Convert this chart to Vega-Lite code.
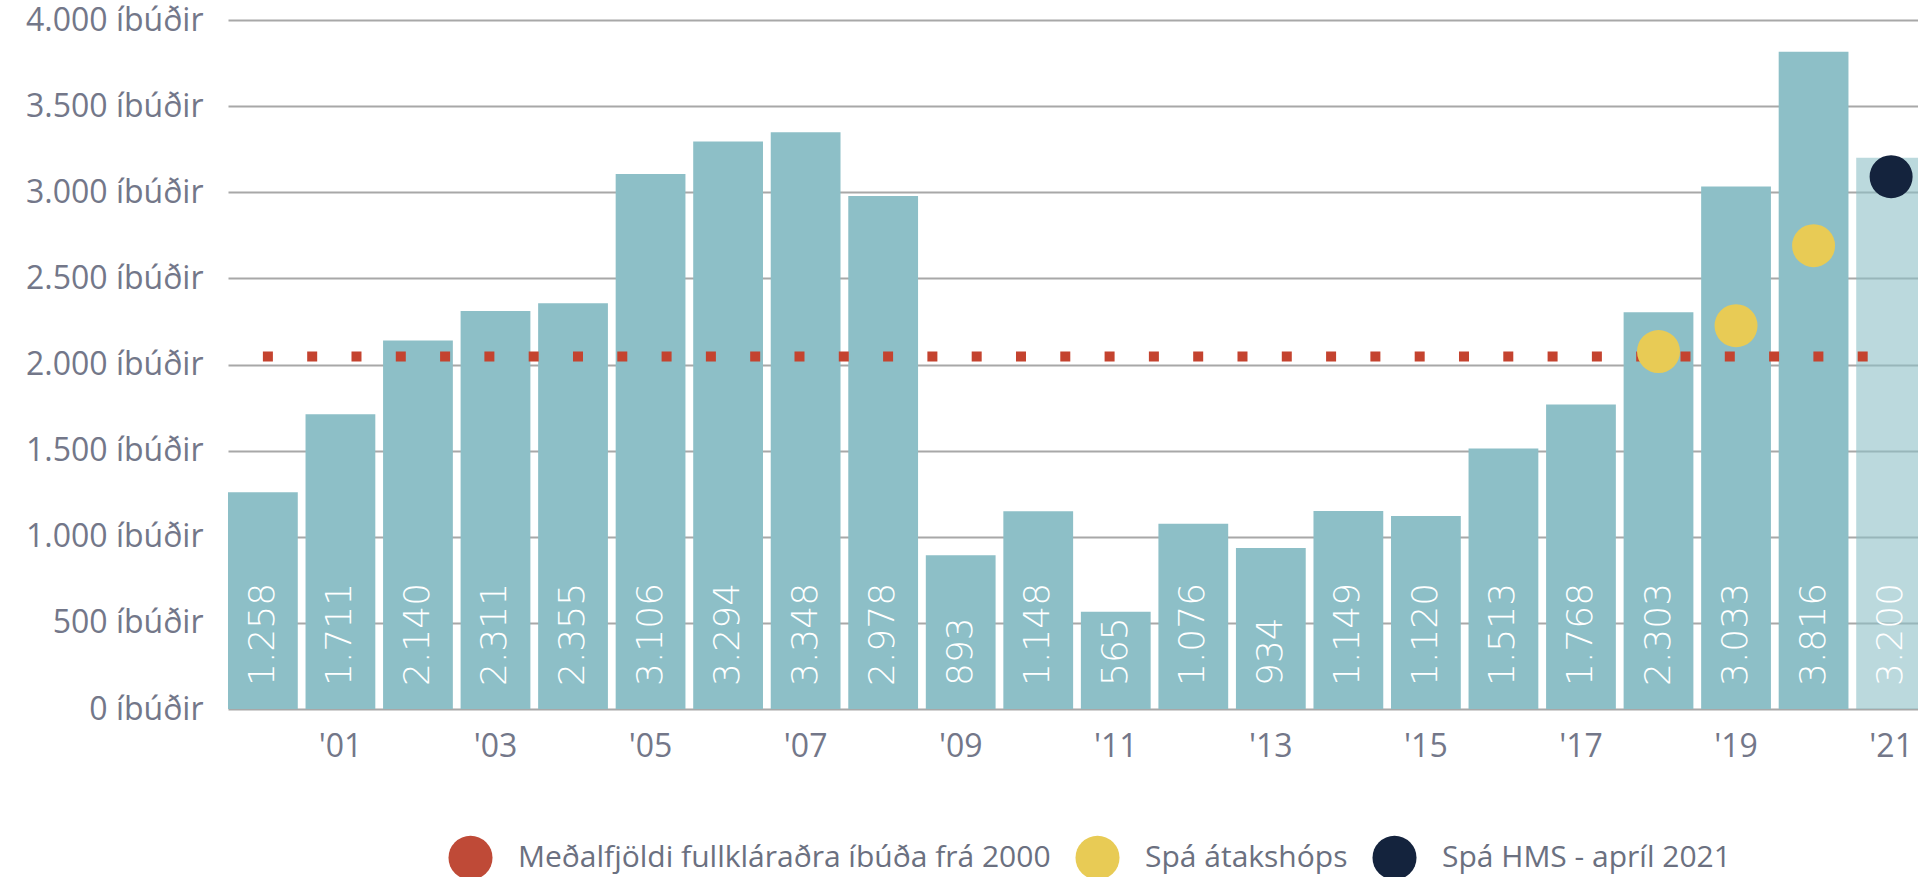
{
  "$schema": "https://vega.github.io/schema/vega-lite/v6.json",
  "width": 1690,
  "height": 689,
  "autosize": {"type": "none"},
  "padding": {"left": 228, "top": 20, "right": 0, "bottom": 168},
  "background": "white",
  "config": {
    "view": {"stroke": null},
    "locale": {"number": {"decimal": ",", "thousands": ".", "grouping": [3], "currency": ["", ""]}}
  },
  "datasets": {
    "bars": [
      {"year": "2000", "value": 1258},
      {"year": "2001", "value": 1711},
      {"year": "2002", "value": 2140},
      {"year": "2003", "value": 2311},
      {"year": "2004", "value": 2355},
      {"year": "2005", "value": 3106},
      {"year": "2006", "value": 3294},
      {"year": "2007", "value": 3348},
      {"year": "2008", "value": 2978},
      {"year": "2009", "value": 893},
      {"year": "2010", "value": 1148},
      {"year": "2011", "value": 565},
      {"year": "2012", "value": 1076},
      {"year": "2013", "value": 934},
      {"year": "2014", "value": 1149},
      {"year": "2015", "value": 1120},
      {"year": "2016", "value": 1513},
      {"year": "2017", "value": 1768},
      {"year": "2018", "value": 2303},
      {"year": "2019", "value": 3033},
      {"year": "2020", "value": 3816},
      {"year": "2021", "value": 3200}
    ],
    "avg": [
      {"year": "2000", "avg": 2046},
      {"year": "2021", "avg": 2046}
    ],
    "pts": [
      {"year": "2018", "forecast": 2075, "series": "Spá átakshóps"},
      {"year": "2019", "forecast": 2225, "series": "Spá átakshóps"},
      {"year": "2020", "forecast": 2690, "series": "Spá átakshóps"},
      {"year": "2021", "forecast": 3090, "series": "Spá HMS - apríl 2021"}
    ]
  },
  "layer": [
    {
      "data": {"name": "bars"},
      "mark": {"type": "bar", "color": "#8dbfc7"},
      "encoding": {
        "x": {
          "field": "year", "type": "ordinal",
          "scale": {"range": [0, 1698], "paddingInner": 0.1, "paddingOuter": 0},
          "axis": {
            "title": null, "domain": false, "ticks": false, "tickSize": 0,
            "labelAngle": 0, "labelPadding": 22, "labelFont": "Open Sans", "labelFontSize": 32,
            "labelColor": "#737789",
            "labelExpr": "toNumber(datum.value) % 2 == 1 ? \"'\" + slice(datum.value, 2) : ''"
          }
        },
        "y": {
          "field": "value", "type": "quantitative",
          "scale": {"domain": [0, 4000], "nice": false},
          "axis": {
            "title": null, "domain": false, "ticks": false, "tickSize": 0,
            "values": [0, 500, 1000, 1500, 2000, 2500, 3000, 3500, 4000],
            "grid": true, "gridColor": "#a8a8a8", "gridWidth": 2,
            "labelPadding": 25, "labelFont": "Open Sans", "labelFontSize": 32,
            "labelColor": "#737789", "labelLimit": 400,
            "labelExpr": "replace(format(datum.value, ','), ',', '.') + ' íbúðir'"
          }
        },
        "opacity": {"condition": {"test": "datum.year == '2021'", "value": 0.6}, "value": 1}
      }
    },
    {
      "data": {"name": "bars"},
      "mark": {"type": "text", "angle": 270, "align": "left", "baseline": "middle", "dx": 23,
               "font": "DejaVu Sans", "fontWeight": 200, "fontSize": 36, "color": "white"},
      "encoding": {
        "x": {"field": "year", "type": "ordinal"},
        "y": {"datum": 0, "type": "quantitative"},
        "text": {"field": "value", "type": "quantitative", "format": ","}
      }
    },
    {
      "data": {"name": "avg"},
      "mark": {"type": "line", "color": "#c4432f", "strokeWidth": 10, "strokeDash": [10, 34.3], "strokeCap": "butt"},
      "encoding": {
        "x": {"field": "year", "type": "ordinal"},
        "y": {"field": "avg", "type": "quantitative"}
      }
    },
    {
      "data": {"name": "pts"},
      "mark": {"type": "point", "shape": "circle", "filled": true, "opacity": 1, "size": 1850},
      "encoding": {
        "x": {"field": "year", "type": "ordinal"},
        "y": {"field": "forecast", "type": "quantitative"},
        "color": {
          "field": "series", "type": "nominal",
          "scale": {
            "domain": ["Meðalfjöldi fullkláraðra íbúða frá 2000", "Spá átakshóps", "Spá HMS - apríl 2021"],
            "range": ["#bf4a37", "#e8cb55", "#14233d"]
          },
          "legend": {
            "title": null, "orient": "none", "legendX": 220, "legendY": 815,
            "direction": "horizontal", "padding": 0,
            "symbolType": "circle", "symbolSize": 1940, "symbolStrokeWidth": 0, "symbolOpacity": 1,
            "labelFont": "Open Sans", "labelFontSize": 30, "labelColor": "#6b7080",
            "labelOffset": 25, "columnPadding": 24, "labelLimit": 1000
          }
        }
      }
    }
  ]
}
